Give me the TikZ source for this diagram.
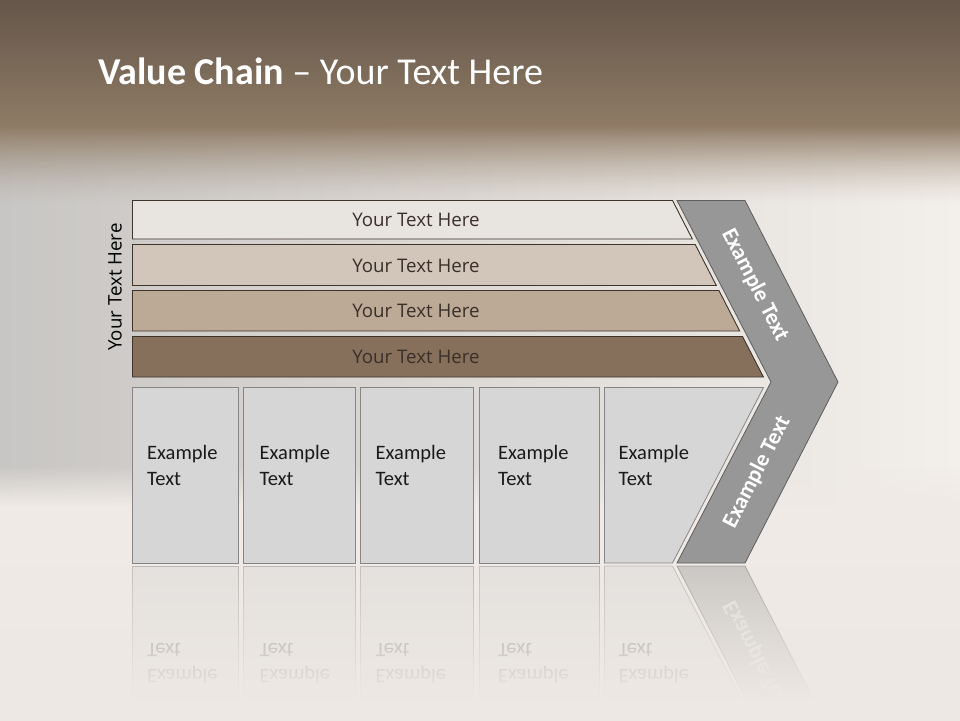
\documentclass[tikz,border=0pt]{standalone}
\usepackage{fontspec}
\setmainfont{Carlito}
\newfontfamily\barfont{Open Sans}
\definecolor{bandtop}{HTML}{65564A}
\definecolor{bandbot}{HTML}{8F7B65}
\definecolor{bgleft}{HTML}{C8C6C4}
\definecolor{bgmid}{HTML}{DEDAD6}
\definecolor{bgright}{HTML}{F3EFEB}
\definecolor{bglow}{HTML}{EFEAE5}
\definecolor{bgbottom}{HTML}{EDE8E3}
\definecolor{barA}{HTML}{E8E4DF}
\definecolor{barB}{HTML}{D2C6BA}
\definecolor{barC}{HTML}{BCA996}
\definecolor{barD}{HTML}{86705B}
\definecolor{barline}{HTML}{3E342C}
\definecolor{bartext}{HTML}{3A3029}
\definecolor{chevfill}{HTML}{979797}
\definecolor{chevline}{HTML}{5E5E5E}
\definecolor{boxfill}{HTML}{D6D6D6}
\definecolor{boxline}{HTML}{858585}
\definecolor{boxtext}{HTML}{1A1A1A}
\tikzset{
  barshape/.style={draw=barline, line width=0.9pt},
  bartxt/.style={font=\barfont\fontsize{18.7}{22}\selectfont, text=bartext, inner sep=0pt},
  chevshape/.style={fill=chevfill, draw=chevline, line width=0.8pt},
  chevtxt/.style={font=\bfseries\fontsize{22.5}{26}\selectfont, text=white, inner sep=0pt},
  boxshape/.style={fill=boxfill, draw=boxline, line width=0.8pt},
  boxtxt/.style={font=\fontsize{20.5}{25}\selectfont, text=boxtext, inner sep=0pt, anchor=base west},
}
\begin{document}
\begin{tikzpicture}[x=1pt,y=-1pt]
\useasboundingbox (0,0) rectangle (960,720);
% background
\shade[left color=bgleft, right color=bgright, middle color=bgmid] (0,126) rectangle (960,720);
\foreach \i in {0,...,39}{
  \pgfmathsetmacro{\op}{(\i+0.5)/40}
  \fill[bglow, opacity=\op] (0,466+\i) rectangle (960,467+\i);
}
\fill[bglow] (0,506) rectangle (960,720);
\shade[top color=bandtop, bottom color=bandbot] (0,0) rectangle (960,126);
\foreach \i in {0,...,79}{
  \pgfmathsetmacro{\op}{(1-(\i+0.5)/80)^1.5}
  \fill[bandbot, opacity=\op] (0,126+\i) rectangle (960,127+\i);
}
% title
\node[anchor=base west, inner sep=0pt, text=white, font=\fontsize{38}{42}\selectfont] (title) at (98,84) {\bfseries Value Chain\mdseries{} – Your Text Here};
% vertical label
\node[bartxt, text=black, rotate=90] (side) at (115,287) {Your Text Here};
% bars
\path[barshape, fill=barA] (132.5,200.5) -- (672.5,200.5) -- (692.3,239) -- (132.5,239) -- cycle;
\path[barshape, fill=barB] (132.5,244.5) -- (695.2,244.5) -- (716.3,285.5) -- (132.5,285.5) -- cycle;
\path[barshape, fill=barC] (132.5,290.5) -- (718.9,290.5) -- (739.7,331) -- (132.5,331) -- cycle;
\path[barshape, fill=barD] (132.5,336.5) -- (742.5,336.5) -- (763.4,377) -- (132.5,377) -- cycle;
\node[bartxt] (b1) at (416,219.5) {Your Text Here};
\node[bartxt] (b2) at (416,265.5) {Your Text Here};
\node[bartxt] (b3) at (416,311) {Your Text Here};
\node[bartxt] (b4) at (416,357) {Your Text Here};
% chevron
\path[chevshape] (677,200.5) -- (745,200.5) -- (838,382) -- (745,563) -- (677,563) -- (771,382) -- cycle;
\node[chevtxt, rotate=-63] (c1) at (755,285) {Example Text};
\node[chevtxt, rotate=63] (c2) at (757,472) {Example Text};
% boxes
\path[boxshape] (132.5,387.5) rectangle (238.5,563);
\path[boxshape] (243.5,387.5) rectangle (355.5,563);
\path[boxshape] (360.5,387.5) rectangle (473.5,563);
\path[boxshape] (479.5,387.5) rectangle (599.5,563);
\path[boxshape] (604.5,387.5) -- (763.5,387.5) -- (672.5,563) -- (604.5,563) -- cycle;
\foreach \x/\n in {147/1,259.5/2,375.5/3,498/4,618.5/5}{
  \node[boxtxt] (e\n) at (\x,459.3) {Example};
  \node[boxtxt] (t\n) at (\x,485.3) {Text};
}
% reflection
\begin{scope}
\clip (0,564) rectangle (960,700);
\begin{scope}[shift={(0,1129)}, yscale=-1, transform shape, opacity=0.42]
\path[boxshape] (132.5,387.5) rectangle (238.5,563);
\path[boxshape] (243.5,387.5) rectangle (355.5,563);
\path[boxshape] (360.5,387.5) rectangle (473.5,563);
\path[boxshape] (479.5,387.5) rectangle (599.5,563);
\path[boxshape] (604.5,387.5) -- (763.5,387.5) -- (672.5,563) -- (604.5,563) -- cycle;
\path[chevshape] (771,382) -- (838,382) -- (745,563) -- (677,563) -- cycle;
\foreach \x/\n in {147/1,259.5/2,375.5/3,498/4,618.5/5}{
  \node[boxtxt] (re\n) at (\x,459.3) {Example};
  \node[boxtxt] (rt\n) at (\x,485.3) {Text};
}
\node[chevtxt, rotate=63] (rc2) at (757,472) {Example Text};
\end{scope}
\end{scope}
% fade of reflection
\foreach \i in {0,...,133}{
  \pgfmathsetmacro{\op}{((\i+0.5)/134)^0.9}
  \fill[bgbottom, opacity=\op] (0,566+\i) rectangle (960,567+\i);
}
\fill[bgbottom] (0,700) rectangle (960,730);
\end{tikzpicture}
\end{document}
